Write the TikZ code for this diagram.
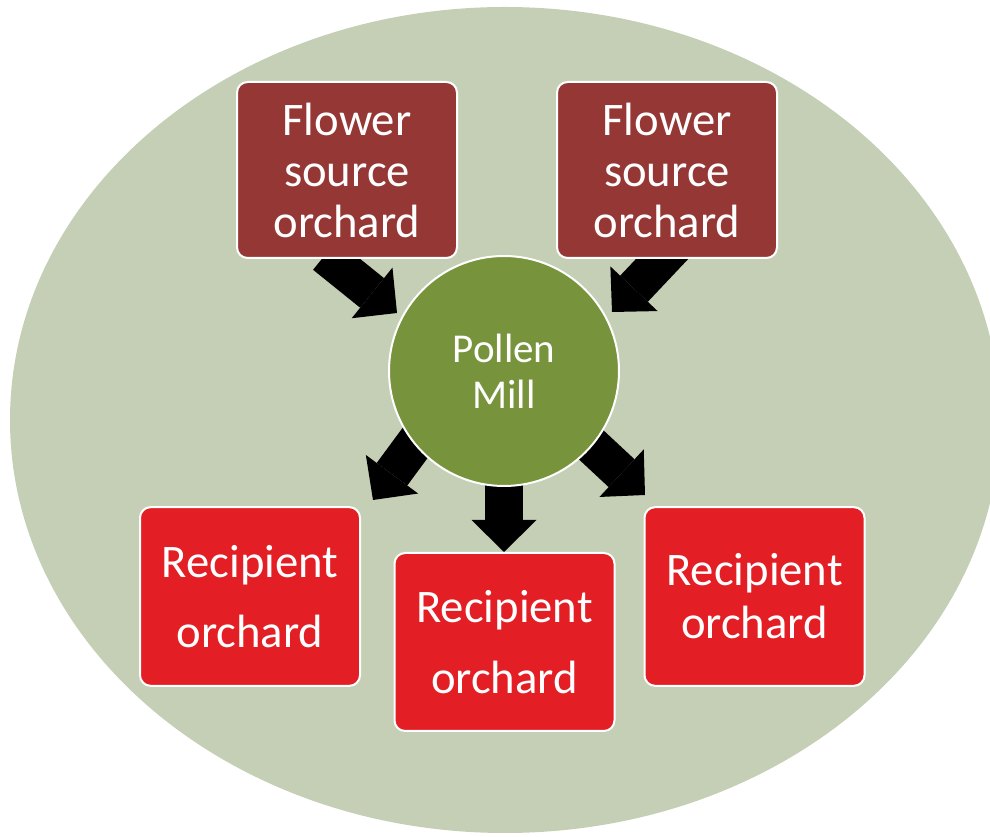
\documentclass[tikz,border=0pt]{standalone}
\usepackage{fontspec}
\setmainfont{Carlito}
\usetikzlibrary{arrows.meta}
\definecolor{sage}{RGB}{197,207,181}
\definecolor{brownbox}{RGB}{149,55,53}
\definecolor{millgreen}{RGB}{119,147,60}
\definecolor{redbox}{RGB}{227,30,36}
\tikzset{
  srcbox/.style={rectangle, rounded corners=8pt, fill=brownbox, draw=white, line width=1.5pt,
    minimum width=165pt, minimum height=132pt, inner sep=0pt, text=white, align=center,
    font=\fontsize{35}{38.25}\selectfont},
  recbox/.style={rectangle, rounded corners=8pt, fill=redbox, draw=white, line width=1.5pt,
    minimum width=165pt, minimum height=134pt, inner sep=0pt, text=white, align=center},
  mill/.style={circle, fill=millgreen, draw=white, line width=1.5pt, minimum size=172.5pt,
    inner sep=0pt, text=white, align=center, font=\fontsize{30.75}{34.5}\selectfont},
  blockarrow/.style={draw=black, line width=28.5pt,
    -{Triangle[length=24pt, width=48.75pt, line width=0pt]}}
}
\begin{document}
\begin{tikzpicture}[x=0.75pt, y=-0.75pt]
\useasboundingbox (0,0) rectangle (990,837);
\clip (0,0) rectangle (990,837);
\fill[sage] (505,420) ellipse [x radius=495, y radius=413];

% arrow end points
\coordinate (t1) at (325,255);  \coordinate (h1) at (397,313);
\coordinate (t2) at (681,239);  \coordinate (h2) at (612,312);
\coordinate (t3) at (461.5,380);\coordinate (h3) at (373,500);
\coordinate (t4) at (504,371);  \coordinate (h4) at (504,552);
\coordinate (t5) at (535.5,393);\coordinate (h5) at (645,495);

\draw[blockarrow] (t1) -- (h1);
\draw[blockarrow] (t2) -- (h2);
\draw[blockarrow] (t3) -- (h3);
\draw[blockarrow] (t4) -- (h4);
\draw[blockarrow] (t5) -- (h5);

\node[srcbox] (fs1) at (347,170) {Flower\\source\\orchard};
\node[srcbox] (fs2) at (667,170) {Flower\\source\\orchard};
\node[recbox, font=\fontsize{35}{53}\selectfont] (r1) at (250,596.5) {Recipient\\orchard};
\node[recbox, font=\fontsize{35}{53}\selectfont, minimum height=133.5pt] (r2) at (504.5,642) {Recipient\\orchard};
\node[recbox, font=\fontsize{35}{39.75}\selectfont] (r3) at (754.5,596.5) {Recipient\\orchard};
\node[mill] (pm) at (504,371) {Pollen\\Mill};
\end{tikzpicture}
\end{document}
